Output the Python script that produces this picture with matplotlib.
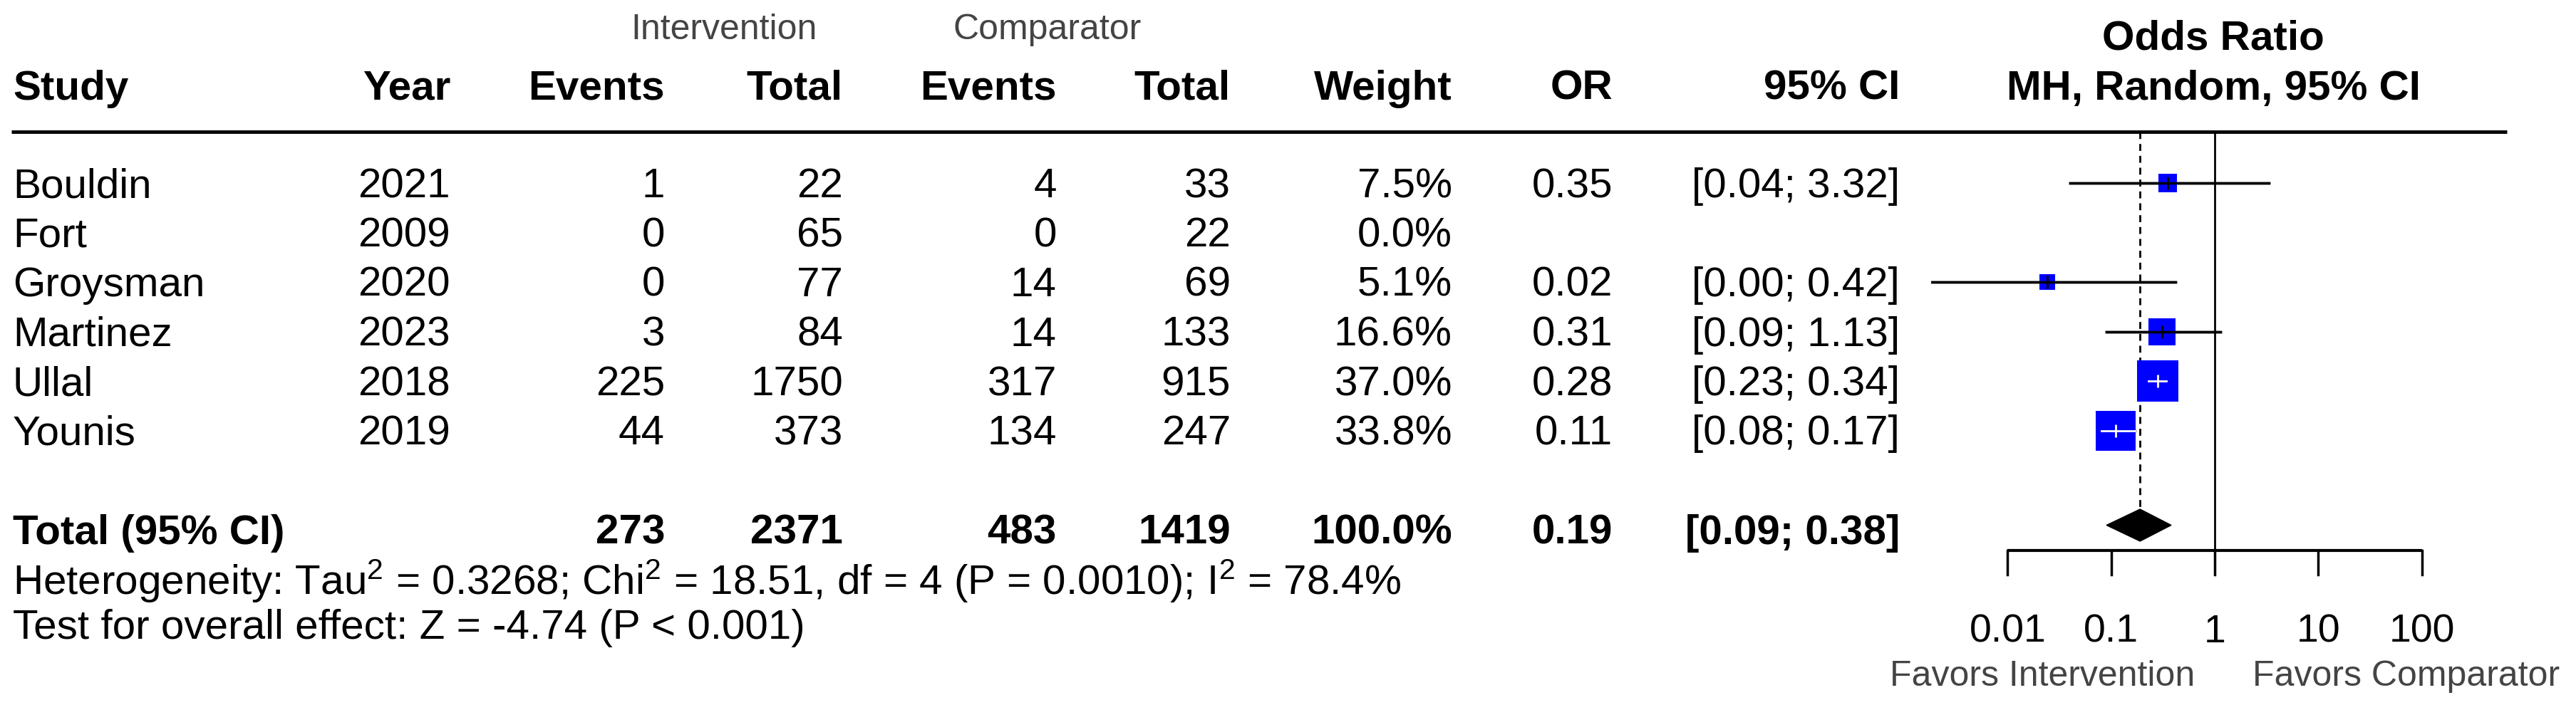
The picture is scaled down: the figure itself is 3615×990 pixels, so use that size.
import numpy as np
import matplotlib
matplotlib.use('Agg')
import matplotlib.pyplot as plt
from matplotlib.patches import Polygon

plt.rcParams['font.family'] = ['Liberation Sans', 'DejaVu Sans']
plt.rcParams['mathtext.fontset'] = 'custom'
plt.rcParams['mathtext.rm'] = 'Liberation Sans'
plt.rcParams['mathtext.it'] = 'Liberation Sans:italic'
plt.rcParams['mathtext.bf'] = 'Liberation Sans:bold'

# study data
studies = ['Bouldin', 'Fort', 'Groysman', 'Martinez', 'Ullal', 'Younis']
years = [2021, 2009, 2020, 2023, 2018, 2019]
ev_int = [1, 0, 0, 3, 225, 44]
n_int = [22, 65, 77, 84, 1750, 373]
ev_cmp = [4, 0, 14, 14, 317, 134]
n_cmp = [33, 22, 69, 133, 915, 247]
weights = [7.5, 0.0, 5.1, 16.6, 37.0, 33.8]
odds = [0.35, np.nan, 0.024, 0.31, 0.28, 0.11]
ci_lo = [0.04, np.nan, 0.0004, 0.09, 0.23, 0.08]
ci_hi = [3.32, np.nan, 0.42, 1.13, 0.34, 0.17]

# pooled result
tot_ev_int, tot_n_int = 273, 2371
tot_ev_cmp, tot_n_cmp = 483, 1419
tot_or, tot_lo, tot_hi = 0.19, 0.09, 0.38

het_text = r"Heterogeneity: Tau$^2$ = 0.3268; Chi$^2$ = 18.51, df = 4 (P = 0.0010); I$^2$ = 78.4%"
test_text = "Test for overall effect: Z = -4.74 (P < 0.001)"

ticks = [0.01, 0.1, 1, 10, 100]
tick_labels = ['0.01', '0.1', '1', '10', '100']

# layout (pixels)
W, H = 3615, 990
ROW0, PITCH = 257, 69.5
BL = 20 / PITCH            # baseline offset from row centre
FX0, FX1 = 2710, 3520      # forest panel extent
X_ONE, DEC = 3108, 145.3   # x of OR=1, pixels per decade
FS = 42
GRAY = '#444444'


def row(p):
    return (p - ROW0) / PITCH


fig = plt.figure(figsize=(W / 100, H / 100), dpi=100)
tab = fig.add_axes([0, 0, 1, 1])
tab.set_xlim(0, W)
tab.set_ylim(row(H), row(0))
tab.axis('off')

fx = fig.add_axes([FX0 / W, 0, (FX1 - FX0) / W, 1])
fx.set_xscale('log')
fx.set_xlim(10 ** ((FX0 - X_ONE) / DEC), 10 ** ((FX1 - X_ONE) / DEC))
fx.set_ylim(row(H), row(0))
fx.axis('off')

# ---- column headers
tab.text(1016, row(55), 'Intervention', ha='center', va='baseline', fontsize=36, color=GRAY)
tab.text(1470, row(55), 'Comparator', ha='center', va='baseline', fontsize=36, color=GRAY)
tab.text(3106, row(70), 'Odds Ratio', ha='center', va='baseline', fontsize=FS, weight='bold')
tab.text(3106, row(140), 'MH, Random, 95% CI', ha='center', va='baseline', fontsize=FS, weight='bold')
tab.text(18, row(140), 'Study', ha='left', va='baseline', fontsize=FS, weight='bold')

fmt_ci = lambda lo, hi: '' if np.isnan(lo) else f'[{lo:.2f}; {hi:.2f}]'
fmt_or = lambda v: '' if np.isnan(v) else f'{v:.2f}'

columns = [
    (632, 'Year', [str(y) for y in years], ''),
    (933, 'Events', [str(v) for v in ev_int], str(tot_ev_int)),
    (1183, 'Total', [str(v) for v in n_int], str(tot_n_int)),
    (1483, 'Events', [str(v) for v in ev_cmp], str(tot_ev_cmp)),
    (1727, 'Total', [str(v) for v in n_cmp], str(tot_n_cmp)),
    (2038, 'Weight', [f'{w:.1f}%' for w in weights], '100.0%'),
    (2263, 'OR', [fmt_or(v) for v in odds], fmt_or(tot_or)),
    (2666, '95% CI', [fmt_ci(a, b) for a, b in zip(ci_lo, ci_hi)], fmt_ci(tot_lo, tot_hi)),
]

for x, head, vals, tot in columns:
    tab.text(x, row(140), head, ha='right', va='baseline', fontsize=FS, weight='bold')
    for i, v in enumerate(vals):
        tab.text(x, i + BL, v, ha='right', va='baseline', fontsize=FS)
    tab.text(x, 7 + BL, tot, ha='right', va='baseline', fontsize=FS, weight='bold')

for i, s in enumerate(studies):
    tab.text(18, i + BL, s, ha='left', va='baseline', fontsize=FS)
tab.text(18, 7 + BL, 'Total (95% CI)', ha='left', va='baseline', fontsize=FS, weight='bold')
tab.text(18, row(835), het_text, ha='left', va='baseline', fontsize=FS)
tab.text(18, row(897), test_text, ha='left', va='baseline', fontsize=FS)

tab.plot([16, 3518], [row(185), row(185)], color='black', lw=3.5, solid_capstyle='butt')

# ---- forest panel
fx.plot([1, 1], [row(185), row(773)], color='black', lw=2)
fx.plot([tot_or, tot_or], [row(185), row(715)], color='black', lw=2, ls=(0, (3.5, 2.5)))

for i in range(len(studies)):
    if np.isnan(odds[i]):
        continue
    side = 9.5 * np.sqrt(weights[i])
    half = side / 2 / DEC
    lg = np.log10(odds[i])
    inside = np.log10(ci_lo[i]) >= lg - half and np.log10(ci_hi[i]) <= lg + half
    c = 'white' if inside else 'black'
    fx.plot([ci_lo[i], ci_hi[i]], [i, i], color='black', lw=2.5, zorder=2)
    fx.plot(odds[i], i, marker='s', ms=side * 0.72, color='#0000ff', mew=0, ls='none', zorder=3)
    fx.plot([ci_lo[i], ci_hi[i]], [i, i], color=c, lw=2 if inside else 2.5, zorder=4)
    fx.plot(odds[i], i, marker='|', ms=13, mew=2, color=c, ls='none', zorder=5)

dc, dh = row(737.5), 22.5 / PITCH
fx.add_patch(Polygon([[tot_lo, dc], [tot_or, dc - dh], [tot_hi, dc], [tot_or, dc + dh]],
                     closed=True, facecolor='black', edgecolor='black', lw=1, zorder=4))

# axis
fx.plot([ticks[0], ticks[-1]], [row(773), row(773)], color='black', lw=3, solid_capstyle='butt')
for t, lab in zip(ticks, tick_labels):
    fx.plot([t, t], [row(773), row(807)], color='black', lw=2.5)
    fx.text(t, row(902), lab, ha='center', va='baseline', fontsize=40)

tab.text(2866, row(963), 'Favors Intervention', ha='center', va='baseline', fontsize=36, color=GRAY)
tab.text(3377, row(963), 'Favors Comparator', ha='center', va='baseline', fontsize=36, color=GRAY)

fig.savefig('out.png', dpi=100, facecolor='white')
